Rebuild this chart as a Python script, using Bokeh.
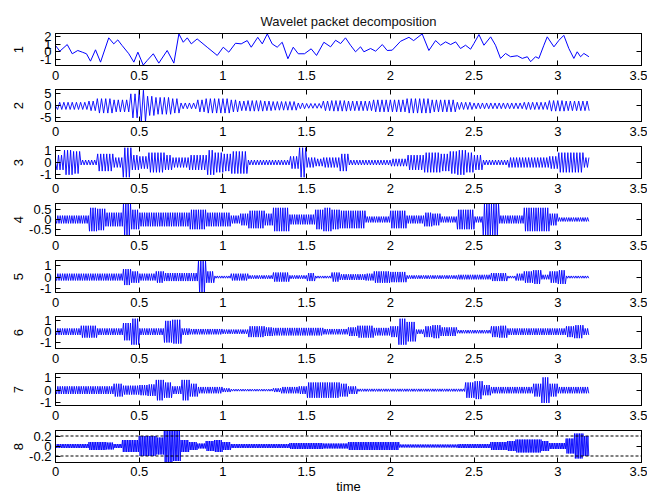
import numpy as np
from bokeh.plotting import figure
from bokeh.layouts import column
from bokeh.models import (FixedTicker, LinearAxis, Range1d, Span,
                          CustomJSTickFormatter, Title)
from bokeh.embed import file_html
from bokeh.resources import INLINE

FONT = "Liberation Sans"

# ---------------- data ----------------
title_text = "Wavelet packet decomposition"
x_label = "time"
x_ticks = [0, 0.5, 1, 1.5, 2, 2.5, 3, 3.5]
panel_names = ["1", "2", "3", "4", "5", "6", "7", "8"]
y_ticks = [[-1, 0, 1, 2], [-5, 0, 5], [-1, 0, 1], [-0.5, 0, 0.5],
           [-1, 0, 1], [-1, 0, 1], [-1, 0, 1], [-0.2, 0, 0.2]]
y_limits = [(-1.8, 2.4), (-6.5, 6.8), (-1.3, 1.3), (-0.82, 0.82),
            (-1.35, 1.45), (-1.55, 1.4), (-1.2, 1.3), (-0.33, 0.31)]
threshold = 0.2  # dashed lines in panel 8
t_end = 3.19

# panel 1: smooth approximation signal (peaks / troughs)
t1 = [0, 0.026, 0.07, 0.10, 0.133, 0.16, 0.185, 0.209, 0.239, 0.269,
      0.318, 0.348, 0.372, 0.398, 0.438, 0.468, 0.492, 0.524, 0.548, 0.584,
      0.617, 0.667, 0.707, 0.737, 0.763, 0.787, 0.811, 0.846, 0.906, 0.966,
      1.002, 1.035, 1.075, 1.109, 1.145, 1.169, 1.208, 1.235, 1.265, 1.294,
      1.324, 1.354, 1.388, 1.42, 1.45, 1.487, 1.527, 1.559, 1.603, 1.643,
      1.673, 1.703, 1.732, 1.762, 1.792, 1.822, 1.842, 1.882, 1.912, 1.952,
      1.981, 2.011, 2.061, 2.111, 2.139, 2.19, 2.23, 2.27, 2.3, 2.33,
      2.36, 2.39, 2.419, 2.449, 2.479, 2.499, 2.529, 2.559, 2.599, 2.628,
      2.658, 2.688, 2.718, 2.758, 2.788, 2.818, 2.838, 2.867, 2.887, 2.917,
      2.937, 2.977, 3.007, 3.036, 3.066, 3.096, 3.116, 3.136, 3.156, 3.186]
v1 = [0.82, 0.08, 0.95, -0.26, 0.17, -0.05, -0.26, -1.23, 0.26, -1.36,
      1.83, 1.04, 1.56, 0.82, -0.26, -1.36, -0.05, -1.75, -1.13, -0.26,
      -1.49, 0.17, -1.49, 2.35, 1.25, 1.83, 1.04, 1.69, 0.6, -0.48,
      0.6, -0.05, 1.12, 1.04, 1.47, 0.6, 1.9, 1.04, 2.35, 1.04,
      0.6, 1.25, -0.91, 0.6, -0.26, -0.26, 0.39, -0.48, 1.25, 0.65,
      1.51, 1.08, 1.83, 0.86, 0.0, 0.65, 0.0, 0.43, 0.08, 0.95,
      0.17, 0.21, 1.38, 1.9, 1.47, 2.35, 0.17, 1.47, 0.86, 1.3,
      0.95, 1.3, 0.43, 0.86, 0.34, 1.08, 2.26, 0.86, 1.96, 0.86,
      -0.87, -0.22, -0.65, -0.52, -0.87, -0.65, -1.3, -0.65, -0.87, 0.86,
      1.96, 0.65, 1.51, 2.16, 0.43, -0.87, 0.0, -0.65, -0.22, -0.65]

# panels 2-8: oscillation amplitude, one value per 0.05 s
env_step = 0.05
env2 = [1.5, 1.5, 1.5, 1.5, 2.0, 3.0, 3.0, 2.5, 2.5, 5.0,
        6.5, 4.0, 3.5, 3.5, 3.0, 1.2, 1.2, 2.5, 3.0, 3.0,
        3.0, 2.5, 2.0, 2.2, 2.2, 2.0, 1.8, 1.8, 1.8, 1.2,
        1.0, 1.0, 2.0, 2.2, 2.2, 2.0, 2.0, 2.0, 2.5, 2.5,
        2.5, 2.5, 3.0, 3.0, 3.0, 2.5, 2.5, 2.5, 1.5, 1.5,
        1.2, 1.2, 1.2, 1.2, 1.2, 1.2, 1.5, 1.5, 1.5, 2.2,
        2.2, 2.0, 2.0, 2.0]
env3 = [0.6, 1.0, 0.9, 0.2, 0.2, 0.7, 0.7, 0.4, 1.2, 0.6,
        0.5, 0.8, 0.8, 0.6, 0.4, 0.4, 0.6, 0.6, 1.0, 0.8,
        0.7, 0.9, 0.9, 0.2, 0.2, 0.2, 0.2, 0.2, 0.5, 1.2,
        0.4, 0.3, 0.4, 0.4, 0.7, 0.2, 0.2, 0.2, 0.2, 0.2,
        0.3, 0.3, 0.6, 0.6, 0.8, 0.8, 0.7, 0.9, 1.0, 0.8,
        0.6, 0.2, 0.2, 0.2, 0.4, 0.4, 0.4, 0.4, 0.4, 0.5,
        0.8, 0.8, 0.8, 0.4]
env4 = [0.2, 0.2, 0.2, 0.2, 0.6, 0.55, 0.35, 0.35, 0.8, 0.5,
        0.35, 0.35, 0.35, 0.35, 0.35, 0.35, 0.5, 0.5, 0.35, 0.35,
        0.35, 0.2, 0.3, 0.45, 0.45, 0.3, 0.6, 0.6, 0.25, 0.25,
        0.25, 0.5, 0.6, 0.5, 0.45, 0.45, 0.45, 0.15, 0.15, 0.15,
        0.45, 0.45, 0.2, 0.2, 0.35, 0.3, 0.15, 0.15, 0.5, 0.5,
        0.15, 0.8, 0.8, 0.2, 0.2, 0.2, 0.6, 0.6, 0.6, 0.3,
        0.1, 0.1, 0.1, 0.1]
env5 = [0.3, 0.3, 0.3, 0.3, 0.3, 0.3, 0.3, 0.3, 0.7, 0.5,
        0.3, 0.3, 0.5, 0.35, 0.35, 0.35, 0.35, 1.4, 0.5, 0.1,
        0.1, 0.3, 0.3, 0.15, 0.15, 0.15, 0.4, 0.4, 0.15, 0.15,
        0.35, 0.1, 0.1, 0.4, 0.25, 0.25, 0.25, 0.3, 0.5, 0.5,
        0.45, 0.45, 0.15, 0.15, 0.15, 0.15, 0.15, 0.15, 0.2, 0.2,
        0.2, 0.2, 0.35, 0.35, 0.1, 0.3, 0.5, 0.6, 0.2, 0.5,
        0.6, 0.1, 0.1, 0.1]
env6 = [0.3, 0.3, 0.3, 0.55, 0.55, 0.3, 0.3, 0.3, 0.8, 1.2,
        0.3, 0.3, 0.3, 1.0, 1.1, 0.3, 0.25, 0.25, 0.25, 0.25,
        0.2, 0.2, 0.2, 0.5, 0.5, 0.4, 0.35, 0.35, 0.35, 0.35,
        0.35, 0.35, 0.25, 0.25, 0.25, 0.4, 0.55, 0.55, 0.35, 0.35,
        0.5, 1.2, 0.9, 0.2, 0.5, 0.6, 0.4, 0.4, 0.15, 0.15,
        0.15, 0.15, 0.5, 0.55, 0.3, 0.3, 0.3, 0.3, 0.3, 0.3,
        0.3, 0.5, 0.6, 0.3]
env7 = [0.3, 0.3, 0.3, 0.3, 0.3, 0.3, 0.3, 0.5, 0.35, 0.35,
        0.4, 0.45, 0.8, 0.6, 0.3, 0.8, 0.5, 0.25, 0.25, 0.25,
        0.15, 0.08, 0.08, 0.08, 0.08, 0.08, 0.15, 0.25, 0.25, 0.3,
        0.6, 0.6, 0.6, 0.6, 0.5, 0.3, 0.1, 0.1, 0.1, 0.1,
        0.1, 0.1, 0.1, 0.1, 0.1, 0.1, 0.1, 0.1, 0.1, 0.6,
        0.7, 0.4, 0.25, 0.25, 0.25, 0.25, 0.25, 0.5, 1.0, 0.5,
        0.25, 0.25, 0.25, 0.25]
env8 = [0.04, 0.04, 0.04, 0.04, 0.08, 0.08, 0.07, 0.04, 0.12, 0.12,
        0.2, 0.2, 0.17, 0.32, 0.3, 0.12, 0.08, 0.05, 0.1, 0.12,
        0.08, 0.04, 0.04, 0.04, 0.04, 0.04, 0.04, 0.04, 0.06, 0.06,
        0.06, 0.06, 0.05, 0.05, 0.05, 0.08, 0.08, 0.08, 0.08, 0.08,
        0.08, 0.03, 0.03, 0.03, 0.03, 0.03, 0.03, 0.03, 0.04, 0.04,
        0.04, 0.04, 0.08, 0.08, 0.1, 0.13, 0.13, 0.13, 0.1, 0.06,
        0.06, 0.15, 0.25, 0.2]
envelopes = [env2, env3, env4, env5, env6, env7, env8]
half_periods = [0.0125, 0.009, 0.007, 0.007, 0.007, 0.007, 0.005]

# ---------------- layout ----------------
TOTAL_H = 495
tops = [33, 89, 146, 203, 260, 316, 373, 430]
FRAME_W, FRAME_H = 586, 32
left_b, right_b = 55, 6
CHAR_W = {"-": 4.33, ".": 3.61}  # Liberation Sans 13px advance widths
DIGIT_W = 7.23

blank_fmt = CustomJSTickFormatter(code="return '';")
num_fmt = CustomJSTickFormatter(code="return String(tick);")


def label_width(s):
    return sum(CHAR_W.get(c, DIGIT_W) for c in s)


def style_axis(ax, ticks, show_labels, standoff=5):
    ax.ticker = FixedTicker(ticks=ticks)
    ax.axis_line_color = "black"
    ax.axis_line_width = 1
    ax.major_tick_line_color = "black"
    ax.major_tick_in = 5
    ax.major_tick_out = 0
    ax.minor_tick_line_color = None
    ax.major_label_text_font = FONT
    ax.major_label_text_color = "black"
    ax.major_label_text_font_size = "13px"
    if show_labels:
        ax.formatter = num_fmt
        ax.major_label_standoff = standoff
    else:
        ax.formatter = blank_fmt
        ax.major_label_standoff = 0


figs = []
for k in range(8):
    start = 0 if k == 0 else tops[k] - 4
    end = TOTAL_H if k == 7 else tops[k + 1] - 4
    b_top = tops[k] - start
    b_bot = end - start - b_top - FRAME_H
    lo, hi = y_limits[k]
    p = figure(frame_width=FRAME_W, frame_height=FRAME_H,
               x_range=Range1d(0, 3.5), y_range=Range1d(lo, hi),
               output_backend="svg", toolbar_location=None,
               min_border_left=left_b, min_border_right=right_b,
               min_border_top=b_top, min_border_bottom=b_bot)
    p.grid.visible = False
    p.outline_line_color = "black"
    p.outline_line_width = 1
    p.outline_line_alpha = 1
    p.background_fill_color = "white"
    p.border_fill_color = "white"

    bottom_ax = p.xaxis[0]
    left_ax = p.yaxis[0]
    style_axis(bottom_ax, x_ticks, True, standoff=(4 if k == 7 else 5))
    style_axis(left_ax, y_ticks[k], True, standoff=4)
    top_ax = LinearAxis()
    style_axis(top_ax, x_ticks, False)
    p.add_layout(top_ax, "above")
    right_ax = LinearAxis()
    style_axis(right_ax, [0], False)
    p.add_layout(right_ax, "right")

    # panel number as the y-axis label, placed at a fixed distance from the edge
    widest = max(label_width(str(v)) for v in y_ticks[k])
    left_ax.axis_label = panel_names[k]
    left_ax.axis_label_text_font = FONT
    left_ax.axis_label_text_font_size = "13px"
    left_ax.axis_label_text_font_style = "normal"
    left_ax.axis_label_text_color = "black"
    left_ax.axis_label_standoff = int(round(max(1, 25.5 - widest)))

    if k == 0:
        p.line(t1, v1, line_color="#0000ff", line_width=1)
        p.title = Title(text=title_text, align="center", text_font=FONT,
                        text_font_size="13px", text_font_style="normal",
                        text_color="#111111", standoff=10)
    else:
        env = np.array(envelopes[k - 1])
        hp = half_periods[k - 1]
        t = np.arange(0, t_end, hp)
        idx = np.minimum((t / env_step).astype(int), len(env) - 1)
        sign = np.where(np.arange(len(t)) % 2 == 0, 1.0, -1.0)
        y = env[idx] * sign
        y[0] = 0.0
        p.line(t, y, line_color="#0000ff", line_width=0.9)

    if k == 7:
        for loc in (threshold, -threshold):
            p.add_layout(Span(location=loc, dimension="width", line_color="black",
                              line_width=1, line_dash="3 2"))
        bottom_ax.axis_label = x_label
        bottom_ax.axis_label_text_font = FONT
        bottom_ax.axis_label_text_font_size = "13px"
        bottom_ax.axis_label_text_font_style = "normal"
        bottom_ax.axis_label_text_color = "black"
        bottom_ax.axis_label_standoff = 0

    figs.append(p)

layout = column(*figs, spacing=0)
open("out.html", "w").write(file_html(layout, INLINE))
